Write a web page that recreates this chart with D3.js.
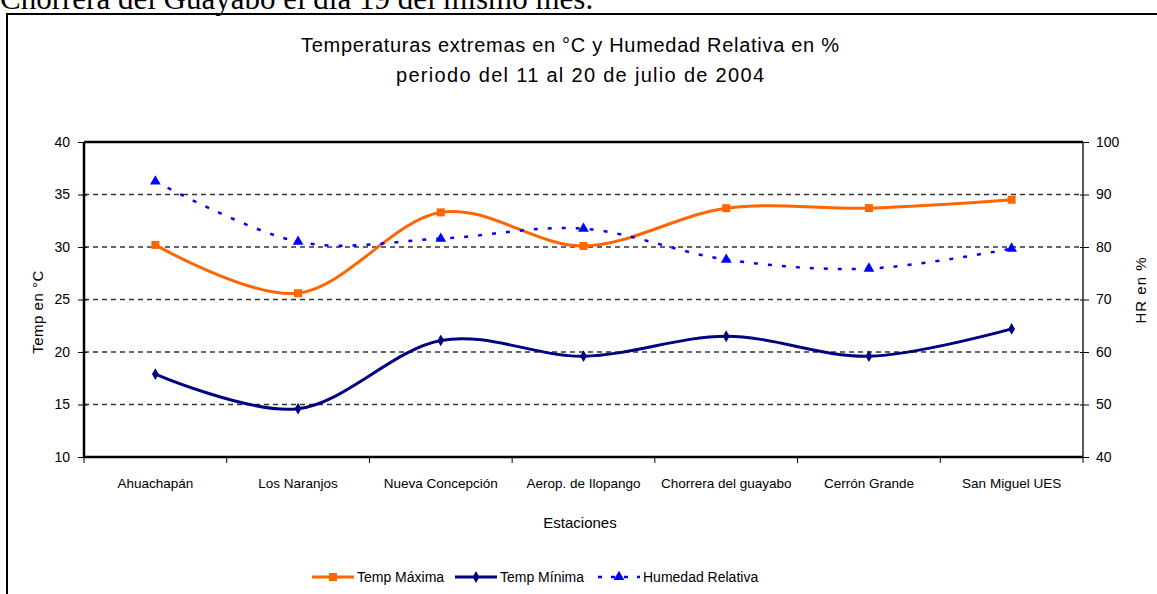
<!DOCTYPE html>
<html>
<head>
<meta charset="utf-8">
<script src="https://cdn.jsdelivr.net/npm/d3@7"></script>
<style>
  body { margin: 0; background: #fff; overflow: hidden; }
  text { font-family: Arial, "Liberation Sans", sans-serif; fill: #000; }
</style>
</head>
<body>
<script>
// DATA
var estaciones = ["Ahuachapán", "Los Naranjos", "Nueva Concepción", "Aerop. de Ilopango",
                  "Chorrera del guayabo", "Cerrón Grande", "San Miguel UES"];
var tempMaxima = [30.2, 25.6, 33.3, 30.1, 33.7, 33.7, 34.5];
var tempMinima = [17.9, 14.6, 21.1, 19.6, 21.5, 19.6, 22.2];
var humedad = [92.5, 81.0, 81.6, 83.5, 77.6, 75.9, 79.7];
var tempTicks = [10, 15, 20, 25, 30, 35, 40];
var hrTicks = [40, 50, 60, 70, 80, 90, 100];

var W = 1157, H = 594;
var margin = { top: 142, right: 74, bottom: 137, left: 84 },
    width = W - margin.left - margin.right,
    height = H - margin.top - margin.bottom;

var svg = d3.select("body").append("svg")
    .attr("width", W)
    .attr("height", H);

// document text above the chart (cut off at the top)
svg.append("text")
    .attr("x", 0)
    .attr("y", 9)
    .style("font-family", "'Liberation Serif', 'Times New Roman', serif")
    .style("font-size", "31px")
    .text("Chorrera del Guayabo el día 19 del mismo mes.");

// chart frame
svg.append("rect")
    .attr("x", 7).attr("y", 14)
    .attr("width", W + 10).attr("height", H + 10)
    .attr("fill", "none")
    .attr("stroke", "#000")
    .attr("stroke-width", 2);

// titles
svg.append("text")
    .attr("x", 570).attr("y", 52)
    .attr("text-anchor", "middle")
    .attr("textLength", 538)
    .attr("lengthAdjust", "spacing")
    .style("font-size", "20px")
    .text("Temperaturas extremas en °C  y Humedad Relativa en %");
svg.append("text")
    .attr("x", 580).attr("y", 82)
    .attr("text-anchor", "middle")
    .attr("textLength", 368)
    .attr("lengthAdjust", "spacing")
    .style("font-size", "20px")
    .text("periodo del 11 al 20 de julio de 2004");

var g = svg.append("g")
    .attr("transform", "translate(" + margin.left + "," + margin.top + ")");

// SCALES
var x = d3.scaleBand().domain(estaciones).range([0, width]);
var yT = d3.scaleLinear().domain([10, 40]).range([height, 0]);
var yH = d3.scaleLinear().domain([40, 100]).range([height, 0]);
var cx = function (i) { return x(estaciones[i]) + x.bandwidth() / 2; };

// gridlines
g.selectAll(".grid")
    .data(tempTicks.slice(1, -1))
    .enter().append("line")
    .attr("x1", 0).attr("x2", width)
    .attr("y1", d => yT(d)).attr("y2", d => yT(d))
    .attr("stroke", "#333")
    .attr("stroke-width", 1.5)
    .attr("stroke-dasharray", "5,4");

// axes
var yLeft = g.append("g")
    .call(d3.axisLeft(yT).tickValues(tempTicks).tickSize(5).tickPadding(9));
var yRight = g.append("g")
    .attr("transform", "translate(" + width + ",0)")
    .call(d3.axisRight(yH).tickValues(hrTicks).tickSize(5).tickPadding(8));
var xAxis = g.append("g")
    .attr("transform", "translate(0," + height + ")")
    .call(d3.axisBottom(x).tickSize(0).tickPadding(31));

[yLeft, yRight, xAxis].forEach(function (a) {
    a.select(".domain").remove();
    a.selectAll("line").attr("stroke", "#000");
    a.selectAll("text").style("font-size", "14px").style("font-family", "Arial, 'Liberation Sans', sans-serif");
});
yLeft.selectAll(".tick line").attr("x2", -6).attr("x1", 3);
yRight.selectAll(".tick line").attr("x2", 6).attr("x1", -3);
xAxis.selectAll("text").style("font-size", "13.5px").attr("dy", "0");

// category boundary ticks
xAxis.selectAll(".bound")
    .data(d3.range(estaciones.length + 1))
    .enter().append("line")
    .attr("x1", i => i * x.step()).attr("x2", i => i * x.step())
    .attr("y1", 0).attr("y2", 6)
    .attr("stroke", "#000");

// plot area border
g.append("line").attr("x1", 0).attr("x2", width).attr("y1", 0).attr("y2", 0)
    .attr("stroke", "#000").attr("stroke-width", 2.5);
g.append("line").attr("x1", 0).attr("x2", width).attr("y1", height).attr("y2", height)
    .attr("stroke", "#000").attr("stroke-width", 2.5);
g.append("line").attr("x1", 0).attr("x2", 0).attr("y1", 0).attr("y2", height)
    .attr("stroke", "#000").attr("stroke-width", 2.5);
g.append("line").attr("x1", width).attr("x2", width).attr("y1", 0).attr("y2", height)
    .attr("stroke", "#222").attr("stroke-width", 1.5);

// axis titles
svg.append("text")
    .attr("transform", "translate(43,312) rotate(-90)")
    .attr("text-anchor", "middle")
    .style("font-size", "15px")
    .style("letter-spacing", "0.5px")
    .text("Temp en °C");
svg.append("text")
    .attr("transform", "translate(1146,290) rotate(-90)")
    .attr("text-anchor", "middle")
    .style("font-size", "15px")
    .style("letter-spacing", "1px")
    .text("HR en %");
svg.append("text")
    .attr("x", 580).attr("y", 528)
    .attr("text-anchor", "middle")
    .style("font-size", "15px")
    .text("Estaciones");

// LINES
var curve = d3.curveCatmullRom.alpha(0);
var lineT = d3.line().x((d, i) => cx(i)).y(d => yT(d)).curve(curve);
var lineH = d3.line().x((d, i) => cx(i)).y(d => yH(d)).curve(curve);

var orange = "#ff6600", navy = "#000080", blue = "#0000ff";

g.append("path").datum(tempMaxima).attr("d", lineT)
    .attr("fill", "none").attr("stroke", orange).attr("stroke-width", 3);
g.append("path").datum(tempMinima).attr("d", lineT)
    .attr("fill", "none").attr("stroke", navy).attr("stroke-width", 3);
g.append("path").datum(humedad).attr("d", lineH)
    .attr("fill", "none").attr("stroke", blue).attr("stroke-width", 2.5)
    .attr("stroke-dasharray", "4,10");

var sq = d3.symbol().type(d3.symbolSquare).size(64);
var dm = d3.symbol().type(d3.symbolDiamond).size(40);
var tr = d3.symbol().type(d3.symbolTriangle).size(50);

g.selectAll(".mmax").data(tempMaxima).enter().append("path")
    .attr("d", sq).attr("fill", orange)
    .attr("transform", (d, i) => "translate(" + cx(i) + "," + yT(d) + ")");
g.selectAll(".mmin").data(tempMinima).enter().append("path")
    .attr("d", dm).attr("fill", navy)
    .attr("transform", (d, i) => "translate(" + cx(i) + "," + yT(d) + ")");
g.selectAll(".mhr").data(humedad).enter().append("path")
    .attr("d", tr).attr("fill", blue)
    .attr("transform", (d, i) => "translate(" + cx(i) + "," + yH(d) + ")");

// LEGEND
var legend = [
    { name: "Temp Máxima", color: orange, sym: sq, x: 312, dash: null, w: 3 },
    { name: "Temp Mínima", color: navy, sym: dm, x: 455, dash: null, w: 3 },
    { name: "Humedad Relativa", color: blue, sym: tr, x: 598, dash: "4,9", w: 2.5 }
];
var lg = svg.append("g").attr("transform", "translate(0,577)");
legend.forEach(function (l) {
    lg.append("line")
        .attr("x1", l.x).attr("x2", l.x + 42)
        .attr("stroke", l.color).attr("stroke-width", l.w)
        .attr("stroke-dasharray", l.dash);
    lg.append("path").attr("d", l.sym).attr("fill", l.color)
        .attr("transform", "translate(" + (l.x + 21) + ",0)");
    lg.append("text")
        .attr("x", l.x + 45).attr("y", 5)
        .style("font-size", "14px")
        .text(l.name);
});
</script>
</body>
</html>
